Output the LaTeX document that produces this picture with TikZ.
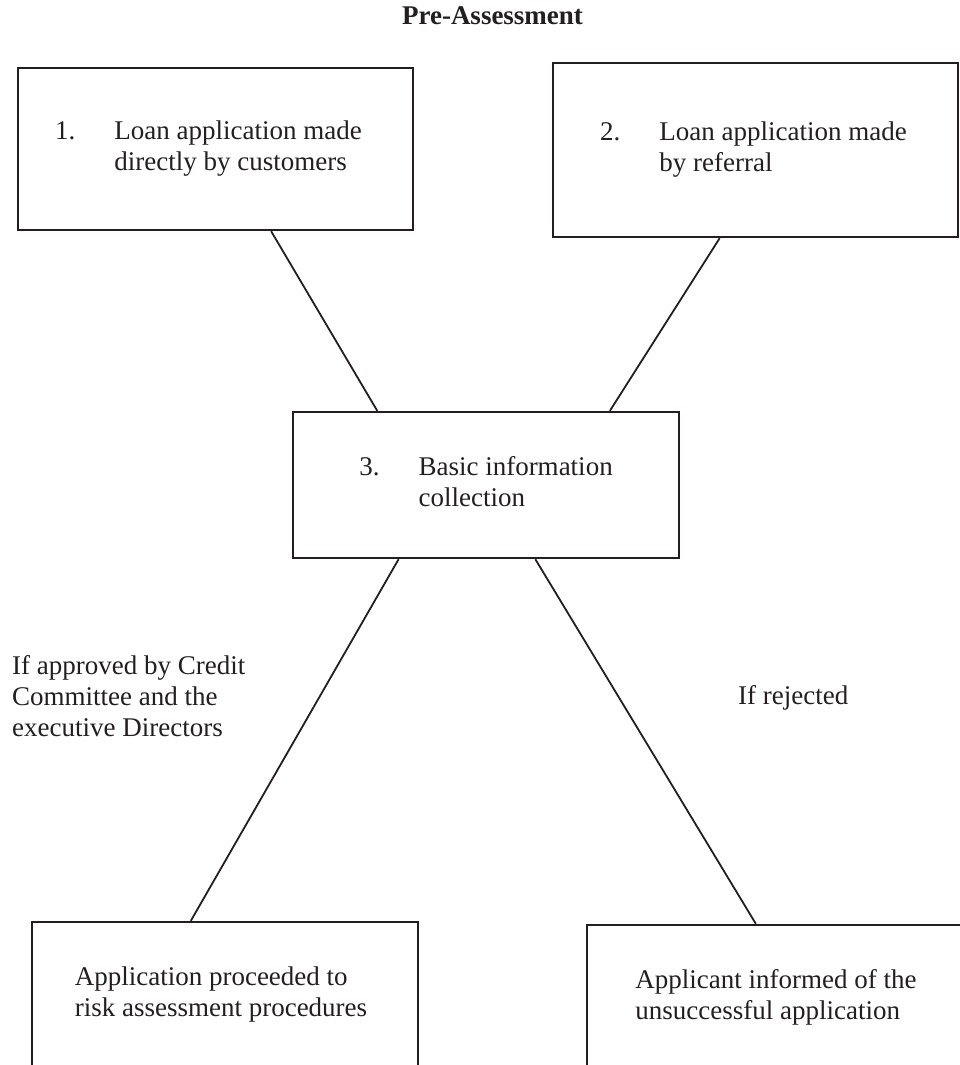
\documentclass[tikz,border=0pt]{standalone}
\usepackage{fontspec}
\setmainfont{Liberation Serif}
\usepackage{tikz}
\usetikzlibrary{calc}
\definecolor{inkdark}{RGB}{35,31,32}

\begin{document}
\begin{tikzpicture}[x=1pt,y=-1pt,
  every node/.style={font=\fontsize{27}{31}\selectfont,text=inkdark,inner sep=0pt},
  stepbox/.style={draw=inkdark,line width=2.4pt,rectangle},
  link/.style={draw=inkdark,line width=1.8pt},
  note/.style={anchor=north west,align=left}]
  \useasboundingbox (0,0) rectangle (960,1065);
  \clip (0,0) rectangle (960,1065);
  \node[anchor=base,font=\fontsize{27}{31}\selectfont\bfseries] (title) at (492.5,25) {Pre-Assessment};
  \node[stepbox,minimum width=395,minimum height=162] (direct) at (215.5,149)
    {\begin{tabular}{@{}l@{\hspace{39pt}}l@{}}1. & Loan application made\\ & directly by customers\end{tabular}\rule{14pt}{0pt}};
  \node[stepbox,minimum width=405,minimum height=174] (referral) at (755.5,150)
    {\begin{tabular}{@{}l@{\hspace{39pt}}l@{}}2. & Loan application made\\ & by referral\end{tabular}\rule{4pt}{0pt}};
  \node[stepbox,minimum width=386,minimum height=146] (collect) at (486,485)
    {\begin{tabular}{@{}l@{\hspace{39pt}}l@{}}3. & Basic information\\ & collection\end{tabular}};
  \node[stepbox,minimum width=386,minimum height=146] (proceed) at (225,995)
    {\begin{tabular}{@{}l@{}}Application proceeded to\\risk assessment procedures\end{tabular}\rule{8pt}{0pt}};
  \node[stepbox,minimum width=378,minimum height=146] (inform) at (776,998)
    {\begin{tabular}{@{}l@{}}Applicant informed of the\\unsuccessful application\end{tabular}};
  % branch labels
  \node[note] (approved) at (12,652.3)
    {\begin{tabular}{@{}l@{}}If approved by Credit\\Committee and the\\executive Directors\end{tabular}};
  \node[note] (rejected) at (738,682.3) {\begin{tabular}{@{}l@{}}If rejected\end{tabular}};
  % connectors
  \draw[link] ($(direct.south west)!0.64!(direct.south east)$) -- ($(collect.north west)!0.22!(collect.north east)$);
  \draw[link] ($(referral.south west)!0.412!(referral.south east)$) -- ($(collect.north west)!0.819!(collect.north east)$);
  \draw[link] ($(collect.south west)!0.275!(collect.south east)$) -- ($(proceed.north west)!0.412!(proceed.north east)$);
  \draw[link] ($(collect.south west)!0.627!(collect.south east)$) -- ($(inform.north west)!0.447!(inform.north east)$);
\end{tikzpicture}
\end{document}
